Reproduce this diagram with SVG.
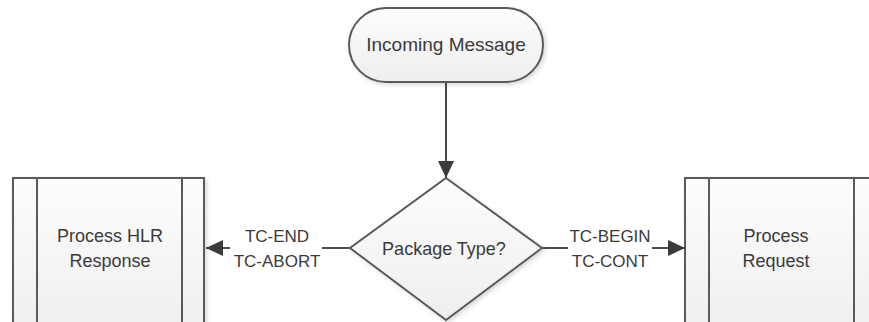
<svg xmlns="http://www.w3.org/2000/svg" width="869" height="322" viewBox="0 0 869 322">
<style>
.shape{fill:url(#g);stroke:#5a5a5a;stroke-width:2;filter:url(#sh)}
.band{fill:none;stroke:#5a5a5a;stroke-width:2}
.t{font-family:"Liberation Sans",Arial,sans-serif;font-size:18px;fill:#3a3a3a;text-anchor:middle}
.l{font-family:"Liberation Sans",Arial,sans-serif;font-size:17px;fill:#3a3a3a;text-anchor:middle}
.c{fill:none;stroke:#4a4a4a;stroke-width:2}
</style>
<defs>
<linearGradient id="g" x1="0" y1="0" x2="0" y2="1">
<stop offset="0" stop-color="#fdfdfd"/>
<stop offset="1" stop-color="#eeeeee"/>
</linearGradient>
<filter id="sh" x="-10%" y="-10%" width="125%" height="130%">
<feDropShadow dx="2" dy="2" stdDeviation="2" flood-color="#000" flood-opacity="0.15"/>
</filter>
<marker id="ah" viewBox="0 0 17 16" refX="17" refY="8" markerWidth="17" markerHeight="16" markerUnits="userSpaceOnUse" orient="auto">
<path d="M0,0 L17,8 L0,16 Z" fill="#3a3a3a"/>
</marker>
</defs>
<rect width="869" height="322" fill="#fff"/>
<g id="connectors">
<line class="c" x1="446" y1="82" x2="446" y2="178" marker-end="url(#ah)"/>
<line class="c" x1="350" y1="248" x2="322" y2="248"/>
<line class="c" x1="230" y1="248" x2="206" y2="248" marker-end="url(#ah)"/>
<text class="l" x="277" y="242">TC-END</text>
<text class="l" x="277" y="267">TC-ABORT</text>
<line class="c" x1="542" y1="248" x2="568" y2="248"/>
<line class="c" x1="652" y1="248" x2="685" y2="248" marker-end="url(#ah)"/>
<text class="l" x="610" y="242">TC-BEGIN</text>
<text class="l" x="610" y="267">TC-CONT</text>
</g>
<g id="incoming">
<rect class="shape" x="349" y="8" width="194" height="74" rx="37" ry="37"/>
<text class="t" x="446" y="51" style="font-size:19px">Incoming Message</text>
</g>
<g id="decision">
<polygon class="shape" points="446,178 542,248 446,320 350,248"/>
<text class="t" x="444" y="255">Package Type?</text>
</g>
<g id="hlr">
<rect class="shape" x="13" y="178" width="191" height="160"/>
<line class="band" x1="37" y1="178" x2="37" y2="338"/>
<line class="band" x1="182" y1="178" x2="182" y2="338"/>
<text class="t" x="110" y="242">Process HLR</text>
<text class="t" x="110" y="267">Response</text>
</g>
<g id="request">
<rect class="shape" x="685" y="178" width="191" height="160"/>
<line class="band" x1="709" y1="178" x2="709" y2="338"/>
<line class="band" x1="854" y1="178" x2="854" y2="338"/>
<text class="t" x="776" y="242">Process</text>
<text class="t" x="776" y="267">Request</text>
</g>
</svg>
